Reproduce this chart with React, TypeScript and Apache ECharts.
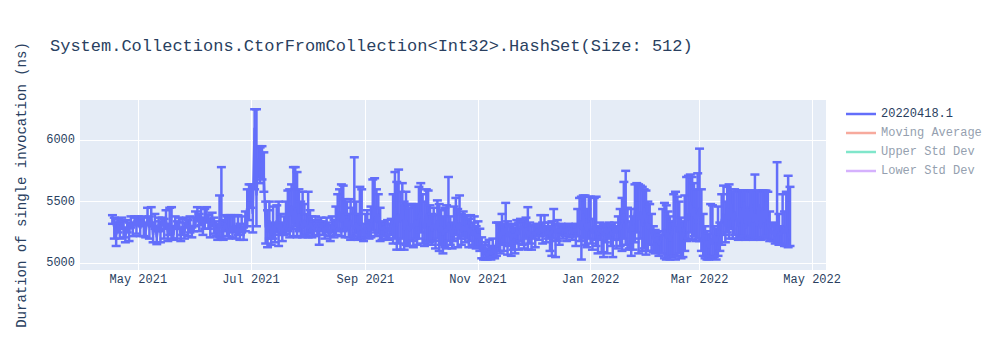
import React, { useEffect, useRef } from "react";
import * as echarts from "echarts";

const TITLE = "System.Collections.CtorFromCollection<Int32>.HashSet(Size: 512)";
const Y_TITLE = "Duration of single invocation (ns)";
const SERIES_NAME = "20220418.1";

// one sample per day starting 2021-04-17
const FIRST_YEAR = 2021;
const FIRST_MONTH = 3; // April (0-based)
const FIRST_DAY = 17;

// measured duration (ns), one line per month
const values = [
  5360,5290,5230,5310,5260,5330,5280,5220,5300,5250,5340,5270,5350,5300,
  5360,5280,5350,5320,5260,5360,5290,5380,5230,5340,5210,5320,5250,5370,5280,5350,5240,5310,5280,5230,5340,5270,5330,5220,5300,5250,5340,5280,5320,5240,5310,
  5360,5400,5320,5380,5300,5350,5390,5330,5290,5360,5300,5270,5250,5330,5290,5260,5330,5280,5240,5300,5250,5310,5230,5290,5250,5300,5220,5340,5450,5520,
  5580,5400,6100,5550,5850,5780,5820,5700,5300,5250,5350,5230,5300,5260,5350,5270,5320,5250,5300,5340,5420,5380,5470,5320,5450,5290,5400,5330,5280,5350,5300,
  5280,5330,5300,5270,5320,5290,5260,5310,5280,5250,5300,5270,5240,5310,5280,5300,5350,5420,5330,5400,5300,5360,5280,5350,5300,5280,5330,5260,5300,5280,5240,
  5290,5320,5260,5300,5380,5450,5330,5400,5290,5270,5300,5250,5290,5260,5310,5360,5450,5300,5400,5330,5480,5270,5350,5300,5260,5320,5280,5350,5300,5380,
  5420,5330,5280,5400,5300,5350,5260,5320,5270,5350,5250,5300,5230,5280,5250,5330,5260,5220,5300,5350,5270,5330,5250,5300,5260,5310,5240,5290,5220,5270,5200,
  5240,5180,5100,5070,5090,5060,5100,5070,5120,5080,5180,5250,5200,5280,5230,5290,5210,5260,5190,5240,5200,5270,5230,5280,5300,5240,5290,5220,5260,5200,
  5260,5230,5280,5240,5290,5250,5300,5230,5270,5220,5260,5300,5240,5280,5250,5290,5260,5280,5250,5290,5270,5240,5280,5250,5300,5350,5270,5400,5300,5260,5330,
  5280,5240,5300,5260,5230,5280,5250,5220,5270,5240,5290,5250,5220,5280,5240,5300,5270,5330,5400,5350,5280,5250,5300,5260,5450,5500,5350,5420,5300,5450,5350,
  5280,5320,5240,5200,5170,5210,5150,5190,5230,5280,5200,5250,5180,5230,5350,5300,5250,5350,5190,5220,5300,5400,5350,5500,5380,5450,5320,5400,
  5450,5300,5200,5150,5180,5120,5200,5150,5230,5170,5220,5280,5350,5400,5300,5450,5350,5480,5300,5420,5350,5300,5450,5320,5500,5280,5460,5300,5480,5330,5400,
  5300,5480,5280,5450,5330,5500,5300,5280,5240,5260,5220,5300,5250,5230,5280,5240,5300,5220,5200,
];

// lower end of each error bar
const lows = [
  5320,5200,5140,5250,5200,5280,5210,5170,5250,5180,5290,5220,5310,5240,
  5320,5220,5300,5220,5210,5310,5200,5330,5170,5280,5155,5260,5170,5320,5200,5280,5180,5230,5200,5190,5290,5200,5280,5180,5230,5200,5290,5220,5250,5210,5260,
  5300,5340,5260,5310,5230,5280,5330,5280,5210,5300,5240,5220,5190,5210,5200,5190,5260,5220,5200,5250,5210,5260,5200,5230,5190,5250,5190,5260,5300,5350,
  5450,5250,5600,5300,5700,5650,5680,5580,5160,5130,5200,5150,5200,5170,5250,5140,5230,5180,5230,5240,5260,5210,5280,5220,5300,5210,5260,5220,5210,5230,5220,
  5210,5240,5210,5220,5260,5230,5150,5260,5230,5200,5250,5220,5180,5250,5210,5230,5260,5280,5220,5260,5210,5270,5210,5190,5220,5200,5240,5190,5210,5200,5180,
  5210,5230,5200,5210,5270,5250,5220,5240,5180,5190,5220,5200,5190,5200,5230,5160,5200,5110,5160,5110,5200,5110,5150,5140,5140,5180,5130,5200,5150,5200,
  5250,5160,5140,5180,5150,5170,5150,5180,5120,5200,5100,5150,5080,5130,5120,5180,5150,5120,5180,5230,5130,5200,5150,5220,5170,5200,5130,5180,5130,5150,5120,
  5130,5100,5040,5030,5030,5030,5040,5030,5050,5040,5060,5100,5080,5150,5100,5160,5070,5140,5060,5110,5080,5160,5110,5180,5150,5120,5200,5110,5160,5110,
  5200,5130,5220,5190,5220,5160,5230,5170,5200,5100,5060,5200,5050,5180,5150,5230,5200,5220,5180,5230,5210,5190,5220,5140,5220,5180,5030,5200,5150,5130,5200,
  5160,5110,5190,5140,5080,5190,5090,5050,5170,5080,5200,5140,5050,5190,5120,5190,5140,5100,5200,5150,5110,5120,5060,5110,5170,5250,5080,5200,5100,5120,5070,
  5100,5150,5100,5090,5080,5090,5060,5080,5080,5040,5030,5060,5030,5050,5060,5030,5060,5080,5040,5050,5100,5180,5200,5250,5190,5220,5180,5200,
  5180,5100,5060,5040,5030,5030,5060,5040,5050,5030,5060,5100,5150,5230,5170,5250,5200,5280,5200,5230,5200,5190,5210,5200,5220,5190,5210,5200,5220,5190,5210,
  5200,5210,5190,5200,5210,5220,5200,5180,5190,5180,5160,5170,5150,5160,5150,5140,5140,5130,5140,
];

// upper end of each error bar
const highs = [
  5390,5370,5330,5360,5340,5370,5340,5290,5350,5330,5380,5320,5380,5370,
  5380,5350,5380,5370,5330,5450,5380,5455,5300,5400,5280,5370,5340,5370,5360,5430,5320,5450,5455,5300,5380,5340,5370,5290,5360,5330,5370,5350,5380,5290,5370,
  5420,5455,5400,5450,5370,5440,5455,5390,5360,5410,5370,5340,5320,5550,5780,5350,5390,5380,5390,5390,5380,5390,5300,5390,5320,5380,5290,5420,5600,5640,
  5640,5620,6250,6250,5950,5940,5950,5900,5500,5430,5500,5320,5460,5330,5470,5500,5400,5330,5380,5500,5590,5600,5640,5780,5780,5740,5600,5500,5580,5480,5400,
  5580,5430,5380,5340,5380,5350,5340,5370,5340,5320,5370,5330,5310,5380,5350,5460,5560,5600,5640,5630,5520,5500,5400,5520,5450,5860,5500,5400,5620,5600,5320,
  5400,5430,5350,5460,5680,5690,5600,5560,5450,5330,5340,5320,5350,5320,5360,5560,5740,5660,5760,5580,5650,5500,5580,5480,5450,5480,5470,5460,5480,5620,
  5650,5560,5500,5600,5590,5470,5400,5450,5390,5510,5480,5430,5380,5450,5470,5700,5380,5330,5460,5530,5440,5550,5400,5420,5380,5390,5360,5390,5330,5380,5300,
  5340,5280,5210,5150,5170,5120,5190,5140,5200,5130,5330,5330,5310,5400,5320,5490,5340,5300,5320,5310,5290,5350,5330,5360,5340,5340,5370,5455,5330,5310,
  5310,5300,5320,5300,5390,5330,5390,5300,5330,5300,5340,5440,5320,5350,5310,5320,5310,5310,5300,5320,5310,5300,5310,5320,5440,5530,5540,5550,5550,5440,5540,
  5540,5360,5530,5540,5300,5330,5300,5290,5320,5300,5330,5310,5290,5330,5300,5380,5440,5530,5660,5750,5450,5340,5440,5380,5640,5650,5640,5630,5620,5600,5590,
  5500,5480,5400,5300,5270,5250,5260,5230,5440,5490,5470,5420,5380,5340,5560,5580,5540,5500,5370,5340,5550,5700,5710,5720,5700,5650,5600,5730,
  5930,5600,5400,5300,5260,5240,5480,5470,5300,5280,5460,5330,5560,5630,5500,5620,5640,5600,5580,5600,5580,5590,5590,5590,5590,5580,5590,5590,5590,5580,5720,
  5590,5590,5580,5590,5590,5590,5580,5420,5330,5320,5300,5820,5400,5300,5560,5420,5580,5710,5620,
];

const yTicks = [5000, 5500, 6000];
const xTickDates: [number, number][] = [
  [2021, 4], [2021, 6], [2021, 8], [2021, 10], [2022, 0], [2022, 2], [2022, 4],
];
const MONTH_NAMES = ["Jan","Feb","Mar","Apr","May","Jun","Jul","Aug","Sep","Oct","Nov","Dec"];

const legendNames = [SERIES_NAME, "Moving Average", "Upper Std Dev", "Lower Std Dev"];
const legendColors = ["#636efa", "#f7aa9d", "#80e6cb", "#d5b1fd"];
const legendTextColors = ["#2a3f5f", "#959faf", "#959faf", "#959faf"];

const FONT = '"Liberation Mono", "Courier New", monospace';
const TEXT_COLOR = "#2a3f5f";
const TRACE_COLOR = "#636efa";

export default function App() {
  const ref = useRef<HTMLDivElement>(null);

  useEffect(() => {
    if (!ref.current) return;
    const chart = echarts.init(ref.current, null, { renderer: "svg" });

    const times = values.map((_, i) => new Date(FIRST_YEAR, FIRST_MONTH, FIRST_DAY + i).getTime());
    const lineData = values.map((v, i) => [times[i], v]);
    const barData = values.map((v, i) => [times[i], v, lows[i], highs[i]]);
    const tickTimes = xTickDates.map(([y, m]) => new Date(y, m, 1).getTime());

    chart.setOption({
      animation: false,
      backgroundColor: "#ffffff",
      textStyle: { fontFamily: FONT },
      title: {
        text: TITLE,
        left: 50,
        top: 38,
        padding: 0,
        textStyle: { fontSize: 17, fontWeight: "normal", color: TEXT_COLOR, fontFamily: FONT },
      },
      legend: {
        orient: "vertical",
        left: 846,
        top: 108,
        padding: 0,
        itemWidth: 30,
        itemHeight: 2.5,
        itemGap: 7,
        selectedMode: false,
        textStyle: { fontSize: 12, fontFamily: FONT },
        data: legendNames.map((n, i) => ({
          name: n,
          icon: "rect",
          itemStyle: { color: legendColors[i] },
          textStyle: { color: legendTextColors[i], fontSize: 12, fontFamily: FONT },
        })),
      },
      grid: {
        left: 80,
        top: 100,
        width: 746,
        height: 170,
        show: true,
        backgroundColor: "#E5ECF6",
        borderWidth: 0,
      },
      xAxis: {
        type: "value",
        min: new Date(2021, 2, 30, 10).getTime(),
        max: new Date(2022, 4, 8, 12).getTime(),
        axisLine: { show: false },
        axisTick: { show: false, customValues: tickTimes },
        axisLabel: {
          customValues: tickTimes,
          margin: 4,
          fontSize: 12,
          color: TEXT_COLOR,
          fontFamily: FONT,
          formatter: (v: number) => {
            const d = new Date(v);
            return MONTH_NAMES[d.getMonth()] + " " + d.getFullYear();
          },
        },
        splitLine: { show: true, lineStyle: { color: "#ffffff", width: 1 } },
      },
      yAxis: {
        type: "value",
        min: 4945,
        max: 6325,
        axisLine: { show: false },
        axisTick: { show: false, customValues: yTicks },
        axisLabel: {
          customValues: yTicks,
          margin: 5,
          fontSize: 12,
          color: TEXT_COLOR,
          fontFamily: FONT,
          formatter: (v: number) => String(v),
        },
        splitLine: { show: true, lineStyle: { color: "#ffffff", width: 1 } },
      },
      graphic: [
        {
          type: "text",
          x: 22,
          y: 185,
          rotation: Math.PI / 2,
          style: {
            text: Y_TITLE,
            fill: TEXT_COLOR,
            font: '14px "Liberation Mono", "Courier New", monospace',
            align: "center",
            verticalAlign: "middle",
          },
        },
      ],
      series: [
        {
          name: SERIES_NAME,
          type: "custom",
          data: barData,
          encode: { x: 0, y: [1, 2, 3] },
          renderItem: (_params: any, api: any) => {
            const x = api.coord([api.value(0), api.value(1)])[0];
            const lo = api.coord([api.value(0), api.value(2)])[1];
            const hi = api.coord([api.value(0), api.value(3)])[1];
            const w = 4.5;
            const style = { stroke: TRACE_COLOR, lineWidth: 2.5, fill: null };
            return {
              type: "group",
              children: [
                { type: "line", shape: { x1: x, y1: hi, x2: x, y2: lo }, style },
                { type: "line", shape: { x1: x - w, y1: hi, x2: x + w, y2: hi }, style },
                { type: "line", shape: { x1: x - w, y1: lo, x2: x + w, y2: lo }, style },
              ],
            };
          },
        },
        {
          name: SERIES_NAME,
          type: "line",
          data: lineData,
          showSymbol: false,
          symbol: "none",
          lineStyle: { color: TRACE_COLOR, width: 2.5 },
          itemStyle: { color: TRACE_COLOR },
        },
        { name: "Moving Average", type: "line", data: [], itemStyle: { color: legendColors[1] } },
        { name: "Upper Std Dev", type: "line", data: [], itemStyle: { color: legendColors[2] } },
        { name: "Lower Std Dev", type: "line", data: [], itemStyle: { color: legendColors[3] } },
      ],
    });

    return () => chart.dispose();
  }, []);

  return (
    <div
      ref={ref}
      style={{ position: "absolute", left: 0, top: 0, width: 1000, height: 350 }}
    />
  );
}
